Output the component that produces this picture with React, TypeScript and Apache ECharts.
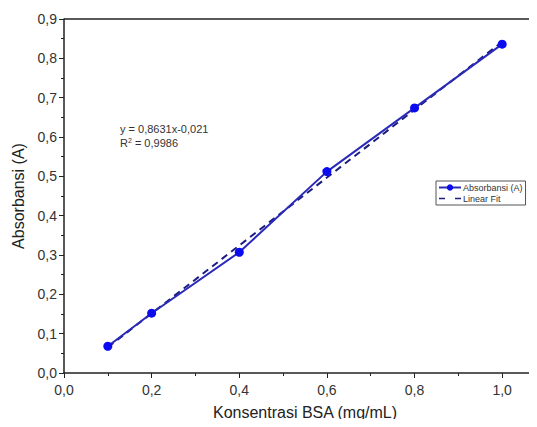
import React, { useEffect, useRef } from "react";
import * as echarts from "echarts";

const concX = [0.1, 0.2, 0.4, 0.6, 0.8, 1.0];
const absY = [0.068, 0.152, 0.307, 0.512, 0.674, 0.836];
const fitX = [0.1, 1.0];
const fitY = [0.0653, 0.8421];
const equationText = "y = 0,8631x-0,021";
const r2Text = "0,9986";

const FONT = "Liberation Sans, Arial, sans-serif";
const fmt = (v: number) => v.toFixed(1).replace(".", ",");

export default function App() {
  const ref = useRef<HTMLDivElement>(null);
  useEffect(() => {
    if (!ref.current) return;
    const chart = echarts.init(ref.current, undefined, { renderer: "svg" });
    chart.setOption({
      animation: false,
      backgroundColor: "#ffffff",
      textStyle: { fontFamily: FONT },
      grid: { left: 64, right: -9, top: 19, bottom: 54, containLabel: false, outerBoundsMode: "none" },
      xAxis: {
        type: "value",
        min: 0,
        max: 1.1,
        interval: 0.2,
        name: "Konsentrasi BSA (mg/mL)",
        nameLocation: "middle",
        nameGap: 31,
        nameTextStyle: { fontSize: 16, color: "#222", fontFamily: FONT },
        axisLine: { show: true, lineStyle: { color: "#222", width: 1.5 } },
        axisTick: { show: true, inside: false, length: 5, lineStyle: { color: "#222" } },
        minorTick: { show: true, splitNumber: 2, length: 3, lineStyle: { color: "#222" } },
        axisLabel: { fontSize: 14, color: "#333", margin: 10, formatter: (v: number) => (v > 1.05 ? "" : fmt(v)) },
        splitLine: { show: false },
      },
      yAxis: {
        type: "value",
        min: 0,
        max: 0.9,
        interval: 0.1,
        name: "Absorbansi (A)",
        nameLocation: "middle",
        nameGap: 34,
        nameTextStyle: { fontSize: 16, color: "#222", fontFamily: FONT },
        axisLine: { show: true, lineStyle: { color: "#222", width: 1.5 } },
        axisTick: { show: true, inside: false, length: 5, lineStyle: { color: "#222" } },
        minorTick: { show: true, splitNumber: 2, length: 3, lineStyle: { color: "#222" } },
        axisLabel: { fontSize: 14, color: "#333", margin: 7, formatter: (v: number) => fmt(v) },
        splitLine: { show: false },
      },
      legend: {
        show: true,
        orient: "vertical",
        left: 436,
        top: 181,
        itemWidth: 22,
        itemHeight: 8,
        itemGap: 2,
        padding: [2, 3, 2, 2],
        borderColor: "#555",
        borderWidth: 1,
        textStyle: { fontSize: 9, color: "#333", fontFamily: FONT, padding: [0, 0, 0, -3] },
        data: [
          "Absorbansi (A)",
          {
            name: "Linear Fit",
            icon: "path://M0,3.5 L6,3.5 L6,5 L0,5 Z M16,3.5 L22,3.5 L22,5 L16,5 Z",
          },
        ],
      },
      graphic: [
        {
          type: "text",
          left: 120,
          top: 123,
          style: { text: equationText, fontSize: 11, fill: "#333", fontFamily: FONT },
        },
        {
          type: "text",
          left: 120,
          top: 137,
          style: {
            text: "R{sup|2} = " + r2Text,
            fontSize: 11,
            fill: "#333",
            fontFamily: FONT,
            rich: { sup: { fontSize: 7, verticalAlign: "top", padding: [0, 0, 5, 0], fill: "#333" } },
          },
        },
        {
          type: "line",
          shape: { x1: 64, y1: 19, x2: 537, y2: 19 },
          style: { stroke: "#222", lineWidth: 1.5 },
        },
      ],
      series: [
        {
          name: "Linear Fit",
          type: "line",
          data: fitX.map((x, i) => [x, fitY[i]]),
          showSymbol: false,
          symbol: "none",
          lineStyle: { color: "#1c1c80", width: 2, type: [7, 5] },
          itemStyle: { color: "#1c1c80" },
          z: 2,
        },
        {
          name: "Absorbansi (A)",
          type: "line",
          data: concX.map((x, i) => [x, absY[i]]),
          symbol: "circle",
          symbolSize: 9,
          lineStyle: { color: "#2a2ab8", width: 2 },
          itemStyle: { color: "#0b0bf0" },
          z: 3,
        },
      ],
    });
    return () => chart.dispose();
  }, []);
  return <div ref={ref} style={{ width: 537, height: 427, margin: -8 }} />;
}
